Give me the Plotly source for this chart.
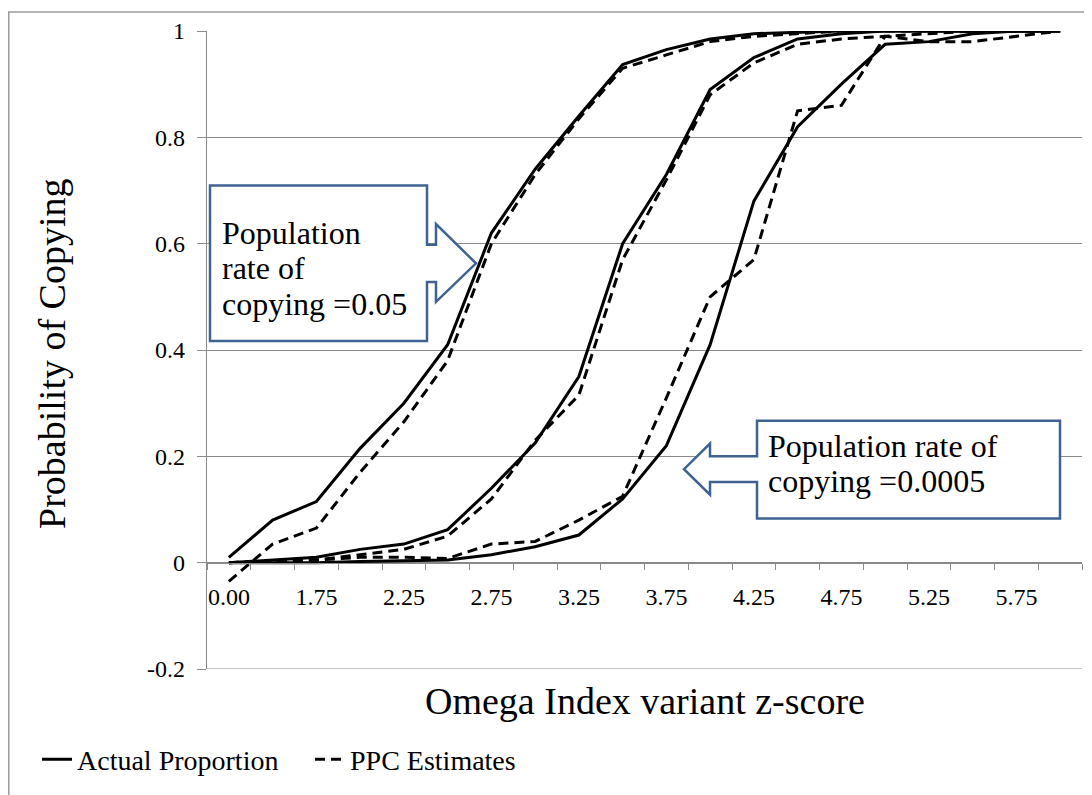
import plotly.graph_objects as go

# ---------------- data ----------------
categories = ["0.00", "1.50", "1.75", "2.00", "2.25", "2.50", "2.75", "3.00", "3.25", "3.50",
              "3.75", "4.00", "4.25", "4.50", "4.75", "5.00", "5.25", "5.50", "5.75", "6.00"]

actual_rate_005 = [0.01, 0.08, 0.115, 0.215, 0.30, 0.41, 0.62, 0.74, 0.84, 0.937,
                   0.965, 0.985, 0.995, 0.998, 1.0, 1.0, 1.0, 1.0, 1.0, 1.0]
ppc_rate_005 = [-0.035, 0.035, 0.065, 0.17, 0.265, 0.38, 0.60, 0.73, 0.835, 0.93,
                0.955, 0.98, 0.99, 0.995, 1.0, 1.0, 1.0, 1.0, 1.0, 1.0]

actual_rate_mid = [0.0, 0.005, 0.01, 0.025, 0.035, 0.062, 0.14, 0.225, 0.35, 0.60,
                   0.73, 0.89, 0.95, 0.985, 0.995, 1.0, 1.0, 1.0, 1.0, 1.0]
ppc_rate_mid = [0.0, 0.003, 0.005, 0.015, 0.025, 0.05, 0.12, 0.23, 0.315, 0.57,
                0.72, 0.88, 0.94, 0.975, 0.985, 0.99, 0.995, 1.0, 1.0, 1.0]

actual_rate_00005 = [0.0, 0.0, 0.0, 0.002, 0.003, 0.005, 0.015, 0.03, 0.052, 0.12,
                     0.22, 0.41, 0.68, 0.82, 0.90, 0.975, 0.98, 0.995, 1.0, 1.0]
ppc_rate_00005 = [0.0, 0.003, 0.005, 0.01, 0.01, 0.008, 0.035, 0.04, 0.08, 0.125,
                  0.31, 0.50, 0.57, 0.85, 0.86, 0.99, 0.98, 0.98, 0.99, 1.0]

y_ticks = [-0.2, 0, 0.2, 0.4, 0.6, 0.8, 1]
y_tick_text = ["-0.2", "0", "0.2", "0.4", "0.6", "0.8", "1"]

# ---------------- style / layout constants ----------------
FONT = "Liberation Serif"
GRID = "#8a8a8a"
BLUE = "#3F6391"
W, H = 1092, 795          # screenshot size
OFF = 8                   # page body margin
PL, PR, PT, PB = 207, 1082, 28, 676   # plot area in screenshot pixels
Y_MIN, Y_MAX = -0.2, 1.0
N = len(categories)
x_idx = list(range(N))


def px2x(px):
    return -0.5 + (px - PL) / (PR - PL) * N


def px2y(py):
    return Y_MAX - (py - PT) / (PB - PT) * (Y_MAX - Y_MIN)


def paper_x(px):
    return (px - PL) / (PR - PL)


def paper_y(py):
    return (PB - py) / (PB - PT)


fig = go.Figure()

series = [
    (actual_rate_005, "solid", "Actual Proportion", True),
    (ppc_rate_005, "10px,6px", "PPC Estimates", True),
    (actual_rate_mid, "solid", "Actual Proportion", False),
    (ppc_rate_mid, "10px,6px", "PPC Estimates", False),
    (actual_rate_00005, "solid", "Actual Proportion", False),
    (ppc_rate_00005, "10px,6px", "PPC Estimates", False),
]
for vals, dash, name, show in series:
    fig.add_trace(go.Scatter(
        x=x_idx, y=vals, mode="lines", name=name, legendgroup=name,
        showlegend=show, line=dict(color="black", width=3, dash=dash),
        hoverinfo="skip"))


def callout_path(pts):
    return "M " + " L ".join(f"{px2x(a):.4f},{px2y(b):.4f}" for a, b in pts) + " Z"


callout1 = [(210, 185), (427, 185), (427, 245), (436, 245), (436, 224), (476, 264),
            (436, 303), (436, 283), (427, 283), (427, 343), (210, 343)]
callout2 = [(1060, 424), (757, 424), (757, 460), (710, 460), (710, 447), (684, 473),
            (710, 499), (710, 486), (757, 486), (757, 523), (1060, 523)]

shapes = []
# bottom gridline at -0.2
shapes.append(dict(type="line", xref="paper", yref="y", x0=0, x1=1, y0=Y_MIN, y1=Y_MIN,
                   line=dict(color=GRID, width=1.2), layer="below"))
for pts in (callout1, callout2):
    shapes.append(dict(type="path", path=callout_path(pts), xref="x", yref="y",
                       line=dict(color=BLUE, width=2.5), fillcolor="white", layer="above"))

# outer chart border
shapes.append(dict(type="rect", xref="paper", yref="paper",
                   x0=paper_x(OFF + 0.75), x1=paper_x(1110), y0=paper_y(OFF + 0.75),
                   y1=paper_y(810), line=dict(color="#9a9a9a", width=1.5),
                   fillcolor="rgba(0,0,0,0)", layer="below"))

annotations = []
for txt, px, py in [("Population", 220, 233), ("rate of", 220, 269), ("copying =0.05", 220, 305),
                    ("Population rate of", 766, 449), ("copying =0.0005", 766, 485)]:
    annotations.append(dict(text=txt, x=px2x(px), y=px2y(py), xref="x", yref="y",
                            xanchor="left", yanchor="middle", showarrow=False,
                            font=dict(family=FONT, size=32, color="black")))

annotations.append(dict(text="Omega Index variant z-score", x=paper_x(645), y=paper_y(709),
                        xref="paper", yref="paper", xanchor="center", yanchor="middle",
                        showarrow=False, font=dict(family=FONT, size=38, color="black")))
annotations.append(dict(text="Probability of Copying", x=paper_x(52), y=paper_y(356),
                        xref="paper", yref="paper", xanchor="center", yanchor="middle",
                        textangle=-90, showarrow=False,
                        font=dict(family=FONT, size=38, color="black")))

fig.update_layout(
    width=W - OFF, height=H - OFF,
    margin=dict(l=PL - OFF, r=W - PR, t=PT - OFF, b=H - PB, pad=0),
    paper_bgcolor="white", plot_bgcolor="white",
    font=dict(family=FONT, color="black"),
    shapes=shapes, annotations=annotations,
    showlegend=True,
    legend=dict(orientation="h", x=paper_x(37), y=paper_y(768), xanchor="left",
                yanchor="middle", font=dict(family=FONT, size=28, color="black"),
                bgcolor="rgba(0,0,0,0)", entrywidth=228, itemwidth=30),
    xaxis=dict(range=[-0.5, N - 0.5], tickmode="array", tickvals=x_idx[::2],
               ticktext=categories[::2], ticks="", showgrid=False, zeroline=False,
               showline=True, linecolor=GRID, linewidth=1.2,
               anchor="free", position=(0 - Y_MIN) / (Y_MAX - Y_MIN),
               tickfont=dict(family=FONT, size=24, color="black"),
               ticklabelstandoff=12,
               minor=dict(tick0=-0.5, dtick=1, ticks="outside", ticklen=6,
                          tickcolor=GRID, tickwidth=1.2, showgrid=False)),
    yaxis=dict(range=[Y_MIN, Y_MAX], tickmode="array", tickvals=y_ticks,
               ticktext=y_tick_text, ticks="outside", ticklen=9, tickcolor=GRID,
               tickwidth=1.2, showline=True, linecolor=GRID, linewidth=1.2,
               showgrid=True, gridcolor=GRID, gridwidth=1.2, zeroline=False,
               tickfont=dict(family=FONT, size=24, color="black"),
               ticklabelstandoff=7),
)

fig.write_html("out.html")
